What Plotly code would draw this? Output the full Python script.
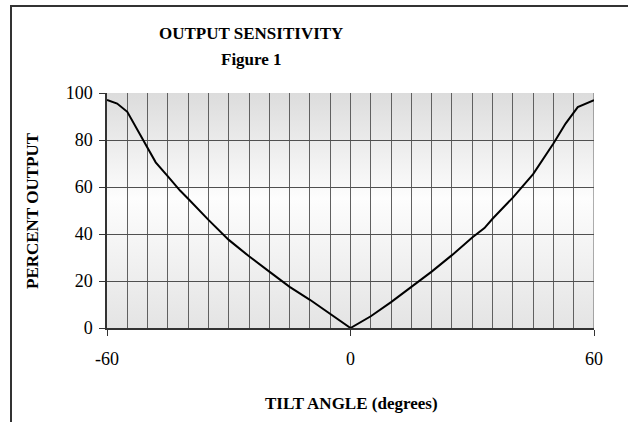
import base64
import plotly.graph_objects as go

# ---- data ----
tilt_angle = [-60, -57.5, -55, -53, -51, -48, -45, -42, -40, -35, -30, -25, -20, -15, -10, -5, -2.5, 0,
              5, 10, 15, 20, 25, 30, 33, 35, 40, 45, 50, 53, 56, 60]
percent_output = [97, 95.5, 92, 86, 80, 70.5, 64.5, 58.5, 55, 46, 37.5, 30.5, 24, 17.5, 12, 6, 3, 0,
                  5, 11, 17.5, 24, 31, 38.5, 42.5, 46.5, 55.5, 65.5, 78.5, 87, 94, 97]
x_ticks = [-60, 0, 60]
x_tick_labels = ["-60", "0", "60"]
y_ticks = [0, 20, 40, 60, 80, 100]

W, H = 628, 422
L, R, T, B = 107, 594, 93, 328  # plot area in px

def px(xp):
    return (xp - L) / (R - L)

def py(yp):
    return (B - yp) / (B - T)

svg = ('<svg xmlns="http://www.w3.org/2000/svg" width="100" height="100" preserveAspectRatio="none">'
       '<defs><linearGradient id="g" x1="0" y1="0" x2="0" y2="1">'
       '<stop offset="0" stop-color="#dcdcdc"/>'
       '<stop offset="0.45" stop-color="#fdfdfd"/>'
       '<stop offset="1" stop-color="#e4e4e4"/>'
       '</linearGradient></defs><rect width="100" height="100" fill="url(#g)"/></svg>')
src = "data:image/svg+xml;base64," + base64.b64encode(svg.encode()).decode()

fig = go.Figure()
fig.add_trace(go.Scatter(x=tilt_angle, y=percent_output, mode="lines",
                         line=dict(color="black", width=2), hoverinfo="skip", showlegend=False))

serif = "Liberation Serif, Times New Roman, serif"

fig.update_layout(
    width=W, height=H,
    margin=dict(l=L, r=W - R, t=T, b=H - B),
    paper_bgcolor="white", plot_bgcolor="white",
    font=dict(family=serif, color="black", size=18),
    images=[dict(source=src, xref="paper", yref="paper", x=0, y=1, sizex=1, sizey=1,
                 sizing="stretch", layer="below", xanchor="left", yanchor="top")],
    xaxis=dict(range=[-60, 60], tickmode="array", tickvals=x_ticks, ticktext=x_tick_labels,
               ticks="outside", ticklen=6, tickcolor="#333", tickwidth=1,
               ticklabelstandoff=8,
               showgrid=True, gridcolor="#606060", gridwidth=1,
               minor=dict(dtick=5, tick0=-60, showgrid=True, gridcolor="#606060", gridwidth=1, ticks=""),
               showline=True, linecolor="#333", linewidth=1.5, zeroline=False,
               tickfont=dict(family=serif, size=18, color="black")),
    yaxis=dict(range=[0, 100], tickmode="array", tickvals=y_ticks,
               ticks="outside", ticklen=6, tickcolor="#333", tickwidth=1,
               ticklabelstandoff=3,
               showgrid=True, gridcolor="#505050", gridwidth=1,
               showline=True, linecolor="#333", linewidth=1.5, zeroline=False,
               tickfont=dict(family=serif, size=18, color="black")),
    shapes=[
        dict(type="line", xref="paper", yref="paper", x0=px(11), x1=px(11), y0=py(6), y1=py(440),
             line=dict(color="#333", width=2)),
        dict(type="line", xref="paper", yref="paper", x0=px(10), x1=px(640), y0=py(6), y1=py(6),
             line=dict(color="#333", width=2)),
        dict(type="line", xref="x", yref="y", x0=60, x1=60, y0=0, y1=100,
             line=dict(color="#606060", width=1), layer="below"),
    ],
    annotations=[
        dict(text="<b>OUTPUT SENSITIVITY</b>", xref="paper", yref="paper", x=px(251), y=py(33),
             showarrow=False, font=dict(family=serif, size=17), xanchor="center", yanchor="middle"),
        dict(text="<b>Figure 1</b>", xref="paper", yref="paper", x=px(251), y=py(59),
             showarrow=False, font=dict(family=serif, size=17), xanchor="center", yanchor="middle"),
        dict(text="<b>PERCENT OUTPUT</b>", xref="paper", yref="paper", x=px(32), y=py(211),
             showarrow=False, textangle=-90, font=dict(family=serif, size=17),
             xanchor="center", yanchor="middle"),
        dict(text="<b>TILT ANGLE (degrees)</b>", xref="paper", yref="paper", x=px(351), y=py(403),
             showarrow=False, font=dict(family=serif, size=17), xanchor="center", yanchor="middle"),
    ],
)

fig.write_html("out.html", config={"displayModeBar": False},
               post_script="document.body.style.margin='0';")
